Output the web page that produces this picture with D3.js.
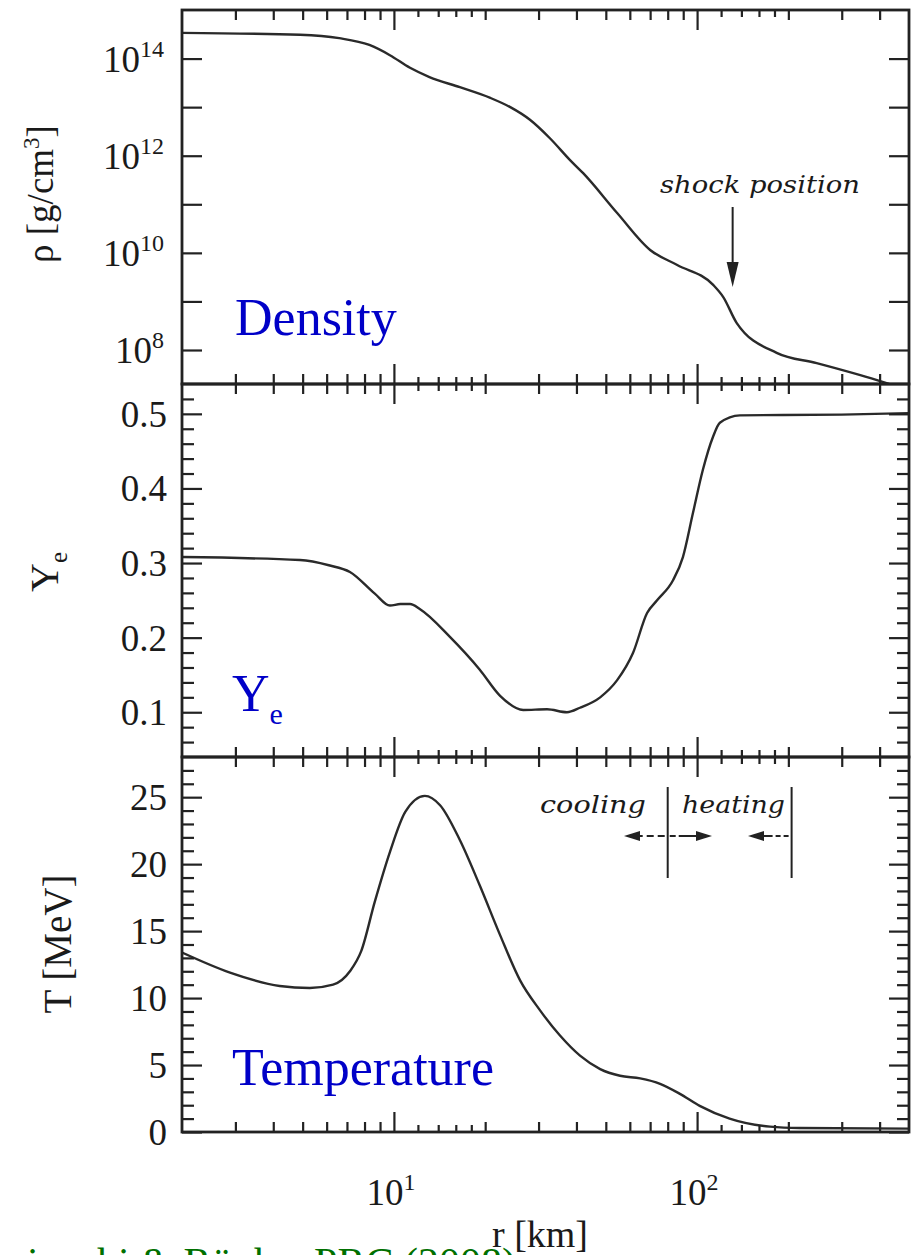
<!DOCTYPE html>
<html>
<head>
<meta charset="utf-8">
<script src="https://cdn.jsdelivr.net/npm/d3@7/dist/d3.min.js"></script>
<style>
body { margin: 0; background: #fff; }
svg { display: block; }
text { font-family: "Liberation Serif", "Times New Roman", serif; fill: #1a1a1a; }
.frame { fill: none; stroke: #222; stroke-width: 2.8; }
.tick line { stroke: #222; stroke-width: 2.2; }
.domain { display: none; }
.curve { fill: none; stroke: #2a2a2a; stroke-width: 2.4; }
.note { font-family: "DejaVu Serif", serif; font-style: italic; font-size: 25px; }
.big { fill: #0000c8; font-size: 52px; }
</style>
</head>
<body>
<script>
// radius [km] and density exponent log10(rho [g/cm3])
var rhoR   = [2, 4.9, 6.6, 8.3, 9.7, 11.3, 13.1, 16.5, 20.8, 24.2, 28.1, 32.7, 38.1, 42.1, 54.5, 70, 86, 113, 122, 135, 183, 248, 392, 430]
var rhoExp = [14.53, 14.49, 14.42, 14.28, 14.07, 13.81, 13.62, 13.41, 13.19, 13.0, 12.74, 12.36, 11.91, 11.64, 10.82, 10.06, 9.75, 9.34, 9.09, 8.56, 7.94, 7.73, 7.38, 7.30]

// electron fraction
var yeR   = [2, 4.9, 6.1, 7.16, 8.65, 9.7, 10.5, 11.3, 12.2, 15.3, 19.2, 22.4, 26.7, 32, 37.2, 41.1, 47.9, 54.5, 61.4, 68.4, 73.8, 83.3, 89.8, 96.9, 104.5, 112.8, 118.9, 138.4, 300, 500]
var yeVal = [0.308, 0.304, 0.297, 0.288, 0.259, 0.243, 0.245, 0.245, 0.238, 0.201, 0.157, 0.122, 0.103, 0.104, 0.100, 0.106, 0.120, 0.143, 0.179, 0.233, 0.250, 0.277, 0.308, 0.367, 0.425, 0.469, 0.488, 0.498, 0.499, 0.501]

// temperature [MeV]
var tR   = [2, 2.88, 4.2, 5.28, 6.3, 7.16, 7.8, 8.65, 9.7, 10.9, 12.65, 14.2, 16.5, 19.2, 22.4, 26.1, 30.3, 35.3, 41.1, 47.9, 55.7, 64.9, 75.5, 87.8, 102, 128, 174, 218, 500]
var tVal = [13.4, 11.9, 10.9, 10.75, 11.0, 12.0, 13.5, 17.2, 20.9, 23.9, 25.1, 24.4, 21.8, 18.4, 14.7, 11.3, 9.1, 7.2, 5.7, 4.7, 4.2, 4.0, 3.6, 2.85, 1.95, 1.0, 0.4, 0.3, 0.25]

// tick values
var xMajor = [10, 100]
var xMinor = [3, 4, 5, 6, 7, 8, 9, 20, 30, 40, 50, 60, 70, 80, 90, 200, 300, 400]
var xSmall = [12, 14, 16, 18, 120, 140, 160, 180]
var xLabelExp = [1, 2]

var rhoTickExp  = [8, 9, 10, 11, 12, 13, 14]
var rhoLabelExp = [8, 10, 12, 14]
var yeMajor = [0.1, 0.2, 0.3, 0.4, 0.5]
var yeMinor = [0.06, 0.08, 0.12, 0.14, 0.16, 0.18, 0.22, 0.24, 0.26, 0.28, 0.32, 0.34, 0.36, 0.38, 0.42, 0.44, 0.46, 0.48, 0.52]
var tMajor = [0, 5, 10, 15, 20, 25]
var tMinor = d3.range(1, 28).filter(function(d){ return d % 5 != 0 })

var left = 182, right = 909

var svg = d3.select('body').append('svg').attr('width', 911).attr('height', 1255)

var x = d3.scaleLog().domain([2, 500]).range([left, right])

var panels = [
  {top: 10,  bottom: 384,  y: d3.scaleLog().domain([Math.pow(10, 7.3), 1e15]),
   major: rhoTickExp.map(function(e){ return Math.pow(10, e) }), minor: [],
   data: d3.zip(rhoR, rhoExp.map(function(e){ return Math.pow(10, e) }))},
  {top: 384, bottom: 757,  y: d3.scaleLinear().domain([0.04, 0.54]),
   major: yeMajor, minor: yeMinor, data: d3.zip(yeR, yeVal)},
  {top: 757, bottom: 1132, y: d3.scaleLinear().domain([0, 28]),
   major: tMajor, minor: tMinor, data: d3.zip(tR, tVal)}
]

function ticks(axis, vals, len, tx, ty){
  svg.append('g')
    .attr('transform', 'translate(' + tx + ',' + ty + ')')
    .call(axis.tickValues(vals).tickSize(-len).tickFormat('').tickSizeOuter(0))
}

panels.forEach(function(p, i){
  p.y.range([p.bottom, p.top])

  var clipId = 'clip' + i
  svg.append('clipPath').attr('id', clipId)
    .append('rect').attr('x', left).attr('y', p.top)
    .attr('width', right - left).attr('height', p.bottom - p.top)

  var line = d3.line()
    .x(function(d){ return x(d[0]) })
    .y(function(d){ return p.y(d[1]) })
    .curve(d3.curveMonotoneX)

  svg.append('path').attr('class', 'curve')
    .attr('clip-path', 'url(#' + clipId + ')')
    .attr('d', line(p.data))

  // x ticks, top and bottom of each panel, pointing inwards
  ticks(d3.axisTop(x), xMajor, 20, 0, p.top)
  ticks(d3.axisTop(x), xMinor, 10, 0, p.top)
  ticks(d3.axisTop(x), xSmall, 7, 0, p.top)
  ticks(d3.axisBottom(x), xMajor, 20, 0, p.bottom)
  ticks(d3.axisBottom(x), xMinor, 10, 0, p.bottom)
  ticks(d3.axisBottom(x), xSmall, 7, 0, p.bottom)

  // y ticks, left and right
  ticks(d3.axisLeft(p.y), p.major, 20, left, 0)
  ticks(d3.axisRight(p.y), p.major, 20, right, 0)
  if (p.minor.length){
    ticks(d3.axisLeft(p.y), p.minor, 12, left, 0)
    ticks(d3.axisRight(p.y), p.minor, 12, right, 0)
  }

  svg.append('rect').attr('class', 'frame')
    .attr('x', left).attr('y', p.top)
    .attr('width', right - left).attr('height', p.bottom - p.top)
})

// y tick labels
var rhoLab = svg.selectAll('text.rho').data(rhoLabelExp).enter().append('text')
  .attr('class', 'rho')
  .attr('x', 164)
  .attr('y', function(d){ return panels[0].y(Math.pow(10, d)) })
  .attr('dy', '0.36em')
  .attr('text-anchor', 'end')
  .style('font-size', '37px')
rhoLab.append('tspan').text('10')
rhoLab.append('tspan').attr('dy', -15).style('font-size', '24px').text(function(d){ return d })

svg.selectAll('text.ye').data(yeMajor).enter().append('text')
  .attr('x', 167)
  .attr('y', function(d){ return panels[1].y(d) })
  .attr('dy', '0.35em')
  .attr('text-anchor', 'end')
  .style('font-size', '37px')
  .text(d3.format('.1f'))

svg.selectAll('text.t').data(tMajor).enter().append('text')
  .attr('x', 167)
  .attr('y', function(d){ return panels[2].y(d) })
  .attr('dy', '0.35em')
  .attr('text-anchor', 'end')
  .style('font-size', '37px')
  .text(function(d){ return d })

// x tick labels
var xLab = svg.selectAll('text.xl').data(xLabelExp).enter().append('text')
  .attr('x', function(d){ return x(Math.pow(10, d)) - 3 })
  .attr('y', 1205)
  .attr('text-anchor', 'middle')
  .style('font-size', '37px')
xLab.append('tspan').text('10')
xLab.append('tspan').attr('dy', -15).style('font-size', '24px').text(function(d){ return d })

// citation, mostly below the bottom edge
svg.append('text').attr('x', -50).attr('y', 1277)
  .style('font-size', '42px').style('fill', '#007000')
  .text('Sumiyoshi & Röpke, PRC (2008)')

svg.append('text').attr('x', 540).attr('y', 1247).attr('text-anchor', 'middle')
  .style('font-size', '38px').text('r [km]')

// axis titles
var t1 = svg.append('text').attr('transform', 'translate(53,194) rotate(-90)')
  .attr('text-anchor', 'middle').style('font-size', '37px')
t1.append('tspan').text('ρ [g/cm')
t1.append('tspan').attr('dy', -14).style('font-size', '23px').text('3')
t1.append('tspan').attr('dy', 14).text(']')

var t2 = svg.append('text').attr('transform', 'translate(58,572) rotate(-90)')
  .attr('text-anchor', 'middle').style('font-size', '40px')
t2.append('tspan').text('Y')
t2.append('tspan').attr('dy', 9).style('font-size', '25px').text('e')

svg.append('text').attr('transform', 'translate(71,944) rotate(-90)')
  .attr('text-anchor', 'middle').style('font-size', '39px').text('T [MeV]')

// panel names
svg.append('text').attr('class', 'big').attr('x', 235).attr('y', 335).text('Density')
var ye = svg.append('text').attr('class', 'big').attr('x', 232).attr('y', 711)
ye.append('tspan').text('Y')
ye.append('tspan').attr('dy', 13).style('font-size', '30px').text('e')
svg.append('text').attr('class', 'big').attr('x', 232).attr('y', 1085).text('Temperature')

// shock position arrow
var shockR = 131
svg.append('text').attr('class', 'note').attr('x', 660).attr('y', 193)
  .attr('textLength', 200).attr('lengthAdjust', 'spacingAndGlyphs').text('shock position')
var sx = x(shockR)
svg.append('line').attr('x1', sx).attr('x2', sx).attr('y1', 207).attr('y2', 265)
  .attr('stroke', '#222').attr('stroke-width', 2)
svg.append('path').attr('d', 'M' + (sx - 6) + ',262L' + (sx + 6) + ',262L' + sx + ',287Z').attr('fill', '#222')

// cooling / heating
var gainR = [80, 205]
svg.append('text').attr('class', 'note').attr('x', 540).attr('y', 813)
  .attr('textLength', 106).attr('lengthAdjust', 'spacingAndGlyphs').text('cooling')
svg.append('text').attr('class', 'note').attr('x', 682).attr('y', 813)
  .attr('textLength', 103).attr('lengthAdjust', 'spacingAndGlyphs').text('heating')
gainR.forEach(function(r){
  svg.append('line').attr('x1', x(r)).attr('x2', x(r)).attr('y1', 787).attr('y2', 878)
    .attr('stroke', '#222').attr('stroke-width', 2)
})
var ay = 836
function arrow(x0, x1, dash){
  var dir = x1 > x0 ? 1 : -1
  svg.append('line').attr('x1', x0).attr('x2', x1 - dir * 12).attr('y1', ay).attr('y2', ay)
    .attr('stroke', '#222').attr('stroke-width', 2).attr('stroke-dasharray', dash)
  svg.append('path').attr('d', 'M' + x1 + ',' + ay + 'L' + (x1 - dir * 16) + ',' + (ay - 5) + 'L' + (x1 - dir * 16) + ',' + (ay + 5) + 'Z')
    .attr('fill', '#222')
}
arrow(x(gainR[0]) - 3, 624, '7,4')
arrow(x(gainR[0]) + 2, 712, '6,3,30')
arrow(x(gainR[1]) - 3, 748, '5,3,5,3,30')
</script>
</body>
</html>
